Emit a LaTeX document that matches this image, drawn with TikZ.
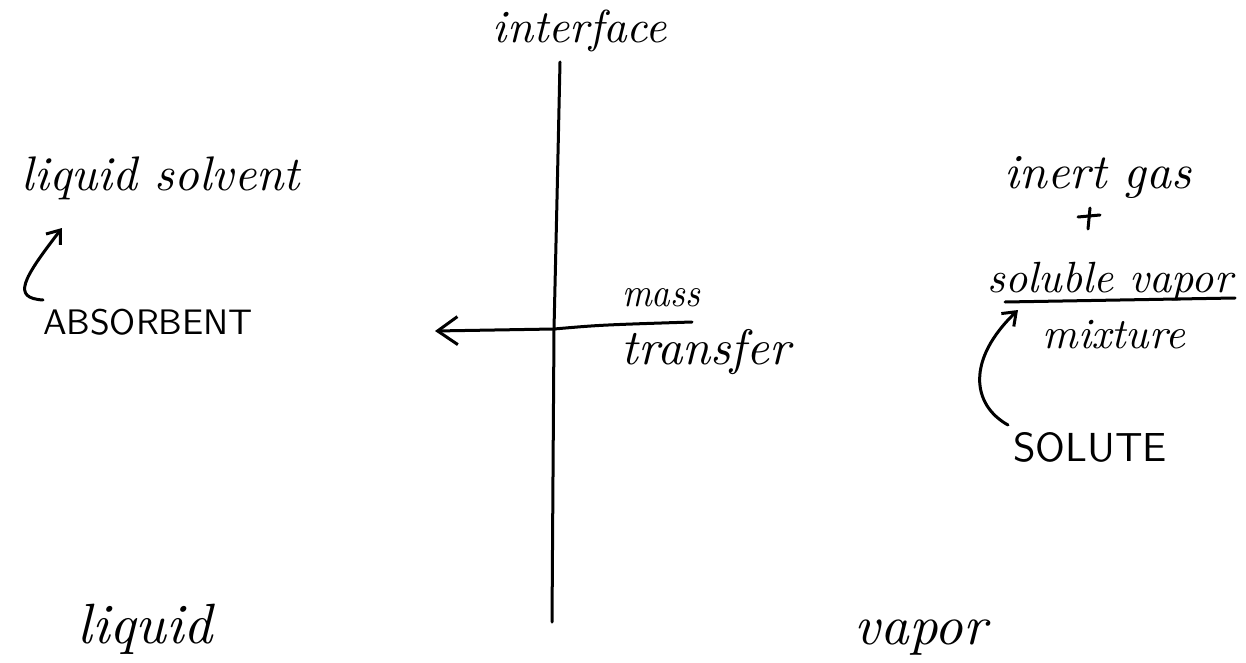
\documentclass[tikz,border=0pt]{standalone}
\usetikzlibrary{arrows.meta}

% handwritten-style label: set in italic, scaled to a given width
\newcommand{\hwtext}[2]{\resizebox{#1}{!}{\itshape #2}}
\newcommand{\hwcaps}[2]{\resizebox{#1}{!}{\sffamily #2}}

\tikzset{
  pen/.style={draw=black, line width=3pt, line cap=round, line join=round},
  barb/.style={-{Straight Barb[length=12pt,width=18pt,line width=3pt]}},
  bigbarb/.style={-{Straight Barb[length=20pt,width=28pt,line width=3pt]}},
  lbl/.style={inner sep=0pt, outer sep=0pt, text=black},
}

\begin{document}
\begin{tikzpicture}[x=1pt,y=-1pt]
  \useasboundingbox (0,0) rectangle (1246,663);
  \fill[white] (0,0) rectangle (1246,663);

  % interface between the two phases
  \node[lbl] (iface) at (580,31) {\hwtext{174pt}{interface}};
  \coordinate (itop) at (560,62);
  \coordinate (icross) at (554,329);
  \coordinate (ibot) at (552,622);
  \draw[pen] (itop) .. controls (557,200) .. (icross) -- (ibot);

  % liquid side
  \node[lbl] (solvent) at (161,178) {\hwtext{278pt}{liquid solvent}};
  \node[lbl] (absorbent) at (148,322) {\hwcaps{210pt}{ABSORBENT}};
  \coordinate (abstail) at (43,300);
  \coordinate (abstip) at (62,228);
  \draw[pen,barb] (abstail) .. controls (12,298) and (22,280) .. (abstip);
  \node[lbl] (liquid) at (145,629) {\hwtext{135pt}{liquid}};

  % mass transfer arrow across the interface
  \node[lbl] (mass) at (661,298) {\resizebox{78pt}{18pt}{\itshape mass}};
  \node[lbl] (transfer) at (706,352) {\hwtext{168pt}{transfer}};
  \coordinate (mtail) at (692,322);
  \coordinate (mtip) at (435,331);
  \draw[pen,bigbarb] (mtail) .. controls (600,325) .. (icross) -- (mtip);

  % vapor side
  \node[lbl] (inert) at (1098,178) {\hwtext{187pt}{inert gas}};
  \coordinate (plusW) at (1078,217);
  \coordinate (plusE) at (1100,215);
  \coordinate (plusN) at (1090,208);
  \coordinate (plusS) at (1088,229);
  \draw[pen] (plusW) -- (plusE) (plusN) -- (plusS);
  \node[lbl] (soluble) at (1110,282) {\hwtext{245pt}{soluble vapor}};
  \coordinate (ulL) at (1005,302);
  \coordinate (ulR) at (1235,298);
  \draw[pen] (ulL) -- (ulR);
  \node[lbl] (mixture) at (1114,335) {\hwtext{142pt}{mixture}};
  \node[lbl] (solute) at (1090,447) {\hwcaps{154pt}{SOLUTE}};
  \coordinate (soltail) at (1008,425);
  \coordinate (soltip) at (1018,310);
  \draw[pen,barb] (soltail) .. controls (972,405) and (966,360) .. (soltip);
  \node[lbl] (vapor) at (921,638) {\hwtext{132pt}{vapor}};
\end{tikzpicture}
\end{document}
